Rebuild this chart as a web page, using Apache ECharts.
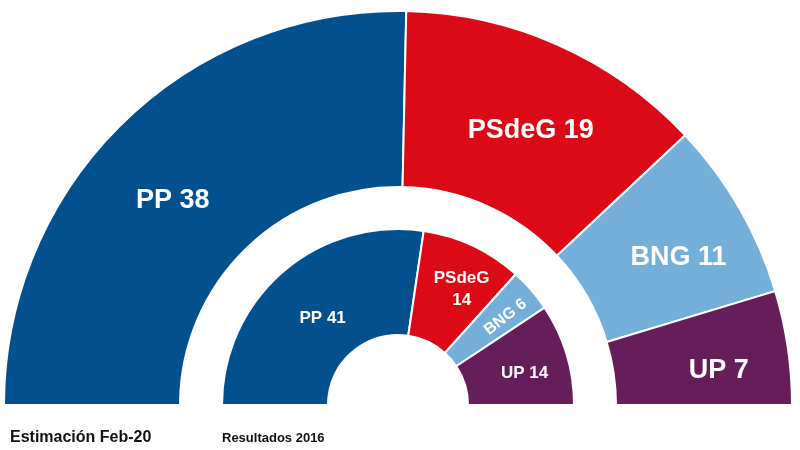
<!DOCTYPE html>
<html>
<head>
<meta charset="utf-8">
<script src="https://cdn.jsdelivr.net/npm/echarts@6/dist/echarts.min.js"></script>
<style>html,body{margin:0;padding:0;background:#fff;}#c{width:800px;height:450px;}</style>
</head>
<body>
<div id="c"></div>
<script>
const parties = ['PP', 'PSdeG', 'BNG', 'UP'];
const colors = ['#03508f', '#dc0a17', '#73afd8', '#651e5a'];
const estimacion = [38, 19, 11, 7];
const resultados2016 = [41, 14, 6, 14];
const outerTitle = 'Estimación Feb-20';
const innerTitle = 'Resultados 2016';

const chart = echarts.init(document.getElementById('c'));
const font = '"Liberation Sans", Arial, sans-serif';

// label nudges to match reference placement
const outerShift = [[-9, 16], [7, 8], [13, 7], [15, 11]];
const innerShift = [[7, 9], [10, -2], [-7, 3], [6, 5]];

function build(values, big) {
  return parties.map((p, i) => {
    const item = { name: p, value: values[i], itemStyle: { color: colors[i] } };
    if (!big && p === 'PSdeG') {
      item.label = { formatter: '{b}\n{c}', lineHeight: 22 };
    }
    if (!big && p === 'BNG') {
      item.label = { rotate: 38, fontSize: 16, padding: [0, 0, 0, 40] };
    }
    return item;
  });
}

function makeSeries(values, radius, fontSize, shifts, big) {
  return {
    type: 'pie',
    center: [398, 405],
    radius: radius,
    startAngle: 180,
    endAngle: 0,
    clockwise: true,
    silent: true,
    itemStyle: { borderColor: '#ffffff', borderWidth: 2 },
    label: {
      position: 'inside',
      formatter: '{b} {c}',
      color: '#ffffff',
      fontFamily: font,
      fontWeight: 'bold',
      fontSize: fontSize
    },
    labelLine: { show: false },
    labelLayout: function (params) {
      const s = shifts[params.dataIndex];
      return { dx: s[0], dy: s[1] };
    },
    data: build(values, big)
  };
}

chart.setOption({
  animation: false,
  series: [
    makeSeries(estimacion, [218, 394], 27, outerShift, true),
    makeSeries(resultados2016, [70, 176], 17, innerShift, false)
  ],
  graphic: [
    { type: 'text', left: 10, top: 430, style: { text: outerTitle, fontFamily: font, fontWeight: 'bold', fontSize: 16, fill: '#111' } },
    { type: 'text', left: 222, top: 432, style: { text: innerTitle, fontFamily: font, fontWeight: 'bold', fontSize: 13, fill: '#111' } }
  ]
});
</script>
</body>
</html>
